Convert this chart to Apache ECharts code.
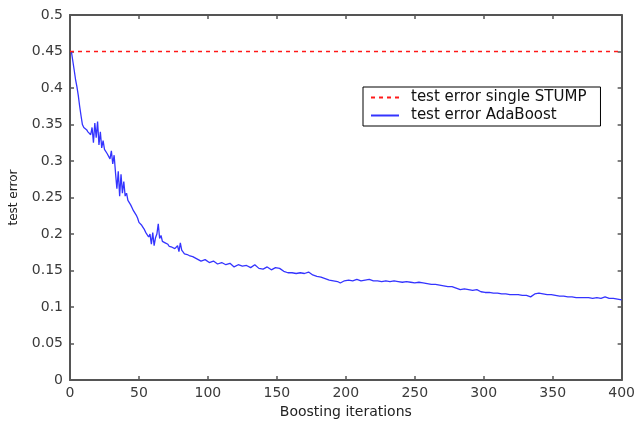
<!DOCTYPE html>
<html>
<head>
<meta charset="utf-8">
<script src="https://cdn.jsdelivr.net/npm/echarts@6/dist/echarts.min.js"></script>
<style>html,body{margin:0;padding:0;background:#fff}#c{width:638px;height:424px}</style>
</head>
<body>
<div id="c"></div>
<script>
const xTicks = [0, 50, 100, 150, 200, 250, 300, 350, 400];
const yTicks = [0, 0.05, 0.1, 0.15, 0.2, 0.25, 0.3, 0.35, 0.4, 0.45, 0.5];
const seriesNames = ['test error single STUMP', 'test error AdaBoost'];
const stumpIters = [0, 400];
const stumpError = [0.45, 0.45];
const adaIters = [
  1,2,3,4,5,6,7,8,9,10,11,12,13,14,15,16,17,18,19,20,
  21,22,23,24,25,26,27,28,29,30,31,32,33,34,35,36,37,38,39,40,
  41,42,43,44,45,46,47,48,49,50,51,52,53,54,55,56,57,58,59,60,
  61,62,63,64,65,66,67,68,69,70,71,72,73,74,75,76,77,78,79,80,
  81,82,83,84,85,86,87,88,89,90,
  92,95,98,101,104,107,110,113,116,119,122,125,128,131,134,137,140,143,146,149,
  152,155,158,161,164,167,170,173,176,179,182,185,188,191,194,196,199,202,205,208,
  211,214,217,220,223,226,229,232,235,238,241,244,247,250,253,256,259,262,265,268,
  271,274,277,280,283,286,289,292,295,298,301,304,307,310,313,316,319,322,325,328,
  331,334,337,340,343,346,349,352,355,358,361,364,367,370,373,376,379,382,385,388,
  391,394,397,400
];
const adaError = [
  0.450,0.448,0.425,0.412,0.402,0.390,0.375,0.362,0.350,0.346,0.344,0.343,0.340,0.342,0.336,0.346,0.325,0.352,0.332,0.354,
  0.322,0.340,0.318,0.328,0.316,0.318,0.310,0.312,0.303,0.314,0.296,0.308,0.284,0.262,0.286,0.252,0.282,0.256,0.272,0.252,
  0.256,0.246,0.244,0.240,0.236,0.232,0.230,0.226,0.222,0.216,0.218,0.212,0.210,0.206,0.202,0.204,0.196,0.200,0.186,0.202,
  0.184,0.195,0.200,0.214,0.194,0.198,0.190,0.191,0.188,0.187,0.186,0.183,0.184,0.182,0.183,0.180,0.181,0.184,0.176,0.188,
  0.178,0.176,0.173,0.175,0.172,0.172,0.170,0.171,0.169,0.170,
  0.166,0.163,0.165,0.161,0.163,0.159,0.161,0.158,0.160,0.155,0.158,0.156,0.157,0.154,0.158,0.153,0.152,0.155,0.151,0.154,
  0.153,0.149,0.147,0.147,0.146,0.147,0.146,0.148,0.144,0.142,0.141,0.139,0.137,0.136,0.135,0.133,0.136,0.137,0.136,0.138,
  0.136,0.137,0.138,0.136,0.136,0.135,0.136,0.135,0.136,0.135,0.134,0.135,0.134,0.133,0.134,0.133,0.132,0.131,0.131,0.130,
  0.129,0.128,0.128,0.126,0.124,0.125,0.124,0.123,0.124,0.121,0.120,0.120,0.119,0.119,0.118,0.118,0.117,0.117,0.117,0.116,
  0.116,0.114,0.118,0.119,0.118,0.117,0.117,0.116,0.115,0.115,0.114,0.114,0.113,0.113,0.113,0.113,0.112,0.113,0.112,0.114,
  0.112,0.112,0.111,0.110
];

const chart = echarts.init(document.getElementById('c'), null, {renderer: 'canvas'});
const axisColor = '#555';
const font = 'DejaVu Sans, Verdana, sans-serif';
const labelStyle = {color: '#3a3a3a', fontSize: 14, fontFamily: font};
const fmtY = v => { const t = yTicks.find(x => Math.abs(x - v) < 1e-9); return t === undefined ? '' : String(+t.toFixed(2)); };
const fmtX = v => String(v);
const boxAxis = {
  axisLine: {show: true, onZero: false, lineStyle: {color: axisColor, width: 2}},
  axisTick: {show: true, inside: true, length: 4, lineStyle: {color: axisColor, width: 1.5}},
  splitLine: {show: false}
};
const redColor = '#ff1a1a';
const blueColor = '#3434ff';
const option = {
  backgroundColor: '#fff',
  animation: false,
  grid: {left: 70, right: 16, top: 15, bottom: 39, containLabel: false},
  legend: {
    show: true,
    left: 363, top: 87,
    orient: 'vertical',
    itemWidth: 28, itemHeight: 10, itemGap: 3,
    padding: [3, 14, 3, 7],
    borderColor: '#000', borderWidth: 1,
    backgroundColor: '#fff',
    itemStyle: {opacity: 0},
    textStyle: {color: '#111', fontSize: 15, fontFamily: font, padding: [0, 0, 0, 7]},
    data: seriesNames
  },
  xAxis: [
    Object.assign({}, boxAxis, {
      type: 'value', min: 0, max: 400, interval: 50, position: 'bottom',
      name: 'Boosting iterations', nameLocation: 'middle', nameGap: 21,
      nameTextStyle: {color: '#222', fontSize: 14, fontFamily: font},
      axisLabel: Object.assign({}, labelStyle, {margin: 6, formatter: fmtX})
    }),
    Object.assign({}, boxAxis, {
      type: 'value', min: 0, max: 400, interval: 50, position: 'top',
      axisLabel: {show: false}
    })
  ],
  yAxis: [
    Object.assign({}, boxAxis, {
      type: 'value', min: 0, max: 0.5, interval: 0.05, position: 'left',
      name: 'test error', nameLocation: 'middle', nameGap: 50, nameRotate: 90,
      nameTextStyle: {color: '#222', fontSize: 12, fontFamily: font},
      axisLabel: Object.assign({}, labelStyle, {margin: 7, formatter: fmtY})
    }),
    Object.assign({}, boxAxis, {
      type: 'value', min: 0, max: 0.5, interval: 0.05, position: 'right',
      axisLabel: {show: false}
    })
  ],
  series: [
    {
      name: seriesNames[0], type: 'line', xAxisIndex: 0, yAxisIndex: 0,
      data: stumpIters.map((x, i) => [x, stumpError[i]]),
      showSymbol: false, symbol: 'none',
      color: redColor,
      lineStyle: {color: redColor, width: 1.5, type: [4, 4]},
      itemStyle: {color: redColor},
      z: 3
    },
    {
      name: seriesNames[1], type: 'line', xAxisIndex: 0, yAxisIndex: 0,
      data: adaIters.map((x, i) => [x, adaError[i]]),
      showSymbol: false, symbol: 'none',
      color: blueColor,
      lineStyle: {color: blueColor, width: 1.3},
      itemStyle: {color: blueColor},
      z: 2
    }
  ]
};
chart.setOption(option);
</script>
</body>
</html>
